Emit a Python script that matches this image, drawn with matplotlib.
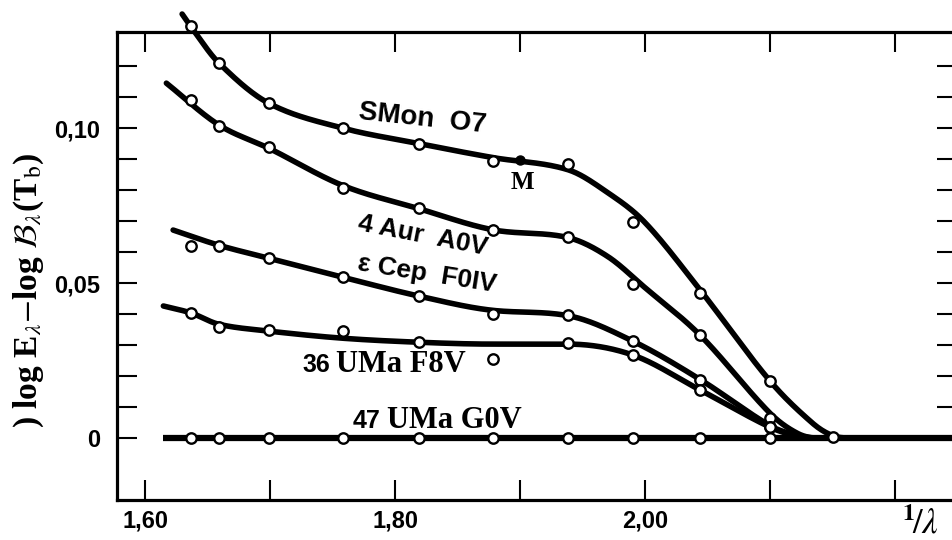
import numpy as np
import matplotlib
matplotlib.use("Agg")
import matplotlib.pyplot as plt

plt.rcParams['mathtext.fontset'] = 'stix'

# ---------------- data ----------------
x_pts = [1.637, 1.659, 1.699, 1.758, 1.819, 1.878, 1.938, 1.990, 2.044, 2.100, 2.150]

smon_pts = [0.1329, 0.1210, 0.1080, 0.1000, 0.0948, 0.0894, 0.0884, 0.0697, 0.0468, 0.0184, 0.0003]
aur_pts = [0.1090, 0.1006, 0.0939, 0.0806, 0.0742, 0.0671, 0.0648, 0.0497, 0.0332, 0.0065]
cep_pts = [0.0619, 0.0619, 0.0580, 0.0519, 0.0458, 0.0400, 0.0397, 0.0313, 0.0187, 0.0035]
uma36_pts = [0.0403, 0.0358, 0.0348, 0.0345, 0.0310, 0.0255, 0.0306, 0.0268, 0.0155, 0.0035]
uma47_pts = [0.0, 0.0, 0.0, 0.0, 0.0, 0.0, 0.0, 0.0, 0.0, 0.0]

m_x = [1.900]
m_y = [0.0897]

# hand-drawn mean curves (vertices)
smon_cx = [1.6296, 1.637, 1.659, 1.699, 1.758, 1.819, 1.878, 1.938, 1.970, 2.000, 2.044, 2.100, 2.134, 2.150, 2.165]
smon_cy = [0.1368, 0.1325, 0.1210, 0.1080, 0.1000, 0.0950, 0.0905, 0.0866, 0.0792, 0.0695, 0.0478, 0.0184, 0.0048, 0.0008, 0.0]

aur_cx = [1.617, 1.659, 1.699, 1.758, 1.819, 1.878, 1.938, 1.970, 2.000, 2.044, 2.100, 2.122, 2.138]
aur_cy = [0.1145, 0.1010, 0.0935, 0.0815, 0.0740, 0.0672, 0.0647, 0.0586, 0.0485, 0.0332, 0.0080, 0.0015, 0.0]

cep_cx = [1.6224, 1.659, 1.699, 1.758, 1.819, 1.878, 1.938, 1.990, 2.044, 2.100, 2.122, 2.138]
cep_cy = [0.0671, 0.0622, 0.0580, 0.0519, 0.0458, 0.0412, 0.0395, 0.0313, 0.0189, 0.0040, 0.0008, 0.0]

uma36_cx = [1.6146, 1.637, 1.659, 1.699, 1.758, 1.819, 1.878, 1.938, 1.990, 2.044, 2.100, 2.122, 2.138]
uma36_cy = [0.0426, 0.0403, 0.0367, 0.0345, 0.0322, 0.0309, 0.0303, 0.0303, 0.0268, 0.0155, 0.0035, 0.0006, 0.0]

uma47_cx = [1.6146, 2.25]
uma47_cy = [0.0, 0.0]

x_ticks = [1.60, 1.70, 1.80, 1.90, 2.00, 2.10, 2.20]
x_ticklabels = ['1,60', '', '1,80', '', '2,00', '', '']
y_ticks = [0.00, 0.01, 0.02, 0.03, 0.04, 0.05, 0.06, 0.07, 0.08, 0.09, 0.10, 0.11, 0.12]
y_ticklabels = ['0', '', '', '', '', '0,05', '', '', '', '', '0,10', '', '']


def smooth_curve(x, y, n=500):
    """Smooth (Catmull-Rom type Hermite) drawing of a hand-drawn curve,
    with monotonicity limiting to avoid overshoot."""
    x = np.asarray(x, float)
    y = np.asarray(y, float)
    h = np.diff(x)
    d = np.diff(y) / h
    m = np.zeros_like(y)
    m[1:-1] = (y[2:] - y[:-2]) / (x[2:] - x[:-2])
    m[0] = d[0]
    m[-1] = 0.0 if abs(y[-1]) < 1e-9 else d[-1]
    for k in range(len(d)):
        if d[k] == 0:
            m[k] = m[k + 1] = 0.0
            continue
        a = m[k] / d[k]
        b = m[k + 1] / d[k]
        if a < 0:
            m[k] = 0.0
            a = 0.0
        if b < 0:
            m[k + 1] = 0.0
            b = 0.0
        s = a * a + b * b
        if s > 9:
            t = 3.0 / np.sqrt(s)
            m[k] = t * a * d[k]
            m[k + 1] = t * b * d[k]
    xn = np.linspace(x[0], x[-1], n)
    idx = np.clip(np.searchsorted(x, xn) - 1, 0, len(x) - 2)
    t = (xn - x[idx]) / h[idx]
    h00 = 2 * t**3 - 3 * t**2 + 1
    h10 = t**3 - 2 * t**2 + t
    h01 = -2 * t**3 + 3 * t**2
    h11 = t**3 - t**2
    yn = h00 * y[idx] + h10 * h[idx] * m[idx] + h01 * y[idx + 1] + h11 * h[idx] * m[idx + 1]
    return xn, yn


fig = plt.figure(figsize=(9.52, 5.40), dpi=100)
ax = fig.add_axes([117 / 952, 40 / 540, 840 / 952, 468 / 540])
ax.set_xlim(1.5775, 2.2496)
ax.set_ylim(-0.0200, 0.1310)

LW = 4.0
for cx, cy in [(smon_cx, smon_cy), (aur_cx, aur_cy), (cep_cx, cep_cy), (uma36_cx, uma36_cy)]:
    xs, ys = smooth_curve(cx, cy)
    ax.plot(xs, ys, color='black', lw=LW, solid_capstyle='round', clip_on=False, zorder=3)
ax.plot(uma47_cx, uma47_cy, color='black', lw=4.5, solid_capstyle='butt', zorder=3)

mk = dict(marker='o', ls='none', ms=7.5, mfc='white', mec='black', mew=1.7, zorder=5, clip_on=False)
ax.plot(x_pts, smon_pts, **mk)
ax.plot(x_pts[:len(aur_pts)], aur_pts, **mk)
ax.plot(x_pts[:len(cep_pts)], cep_pts, **mk)
ax.plot(x_pts[:len(uma36_pts)], uma36_pts, **mk)
ax.plot(x_pts[:len(uma47_pts)], uma47_pts, **mk)
ax.plot(m_x, m_y, marker='o', ls='none', ms=6.5, mfc='black', mec='black', zorder=5)

sans = dict(family='Liberation Sans', weight='bold', color='black')
serif = dict(family='Liberation Serif', weight='bold', color='black')

ax.text(1.8216, 0.1030, 'SMon  O7', fontsize=20, rotation=-6, ha='center', va='center',
        rotation_mode='anchor', **sans)
ax.text(1.9016, 0.0823, 'M', fontsize=18, ha='center', va='center', **serif)
ax.text(1.8224, 0.0652, '4 Aur  A0V', fontsize=19, rotation=-11, ha='center', va='center',
        rotation_mode='anchor', **sans)
ax.text(1.8256, 0.0530, 'ε Cep  F0IV', fontsize=19, rotation=-9, ha='center', va='center',
        rotation_mode='anchor', **sans)
ax.text(1.7368, 0.0213, '36', fontsize=18, ha='center', va='baseline', **sans)
ax.text(1.8048, 0.0213, 'UMa F8V', fontsize=22, ha='center', va='baseline', **serif)
ax.text(1.7768, 0.0032, '47', fontsize=18, ha='center', va='baseline', **sans)
ax.text(1.8476, 0.0032, 'UMa G0V', fontsize=22, ha='center', va='baseline', **serif)

# axes styling
for s in ax.spines.values():
    s.set_linewidth(2.3)
ax.set_xticks(x_ticks)
ax.set_xticklabels(x_ticklabels)
ax.set_yticks(y_ticks)
ax.set_yticklabels(y_ticklabels)
ax.tick_params(axis='both', which='both', direction='in', length=14.5, width=1.5,
               top=True, right=True, labelsize=17)
ax.tick_params(axis='x', pad=7)
ax.tick_params(axis='y', pad=12)
for lab in ax.get_xticklabels() + ax.get_yticklabels():
    lab.set_fontfamily('Liberation Sans')
    lab.set_fontweight('bold')

fig.text(920 / 952, 1 - 523 / 540, r'$^{\mathbf{1}}\!/\lambda$', fontsize=25,
         ha='center', va='center', color='black')

fig.text(29 / 952, 1 - 290 / 540,
         r') log E$_\lambda$$-$log $\mathcal{B}_\lambda$(T$_\mathrm{b}$)',
         rotation=90, ha='center', va='center', fontsize=24, **serif)

fig.savefig('out.png', dpi=100)
